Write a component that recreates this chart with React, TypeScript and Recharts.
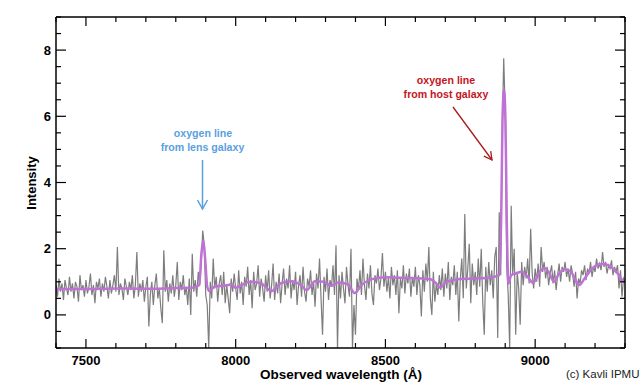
import { Line, LineChart, XAxis, YAxis } from 'recharts';

// observed spectrum, 5 Å sampling from 7400 Å
const FLUX_START = 7400;
const FLUX_STEP = 5;
const observedFlux = [
  0.9, 0.55, 1.1, 0.7, 0.95, 0.45, 1.05, 0.8, 0.6, 1.15,
  0.7, 0.95, 0.5, 1.0, 0.85, 0.4, 1.2, 0.75, 0.9, 0.55,
  1.05, 0.65, 0.85, 1.25, 0.6, 0.9, 0.35, 1.0, 0.8, 1.1,
  0.55, 0.95, 0.7, 1.15, 0.85, 0.5, 1.05, 0.65, 0.9, 1.2,
  0.7, 2.05, 0.6, 0.95, 0.8, 0.45, 1.1, 0.85, 0.6, 1.0,
  0.75, 1.2, 0.5, 0.9, 1.9, 0.55, 0.95, 0.7, 1.05, 0.4,
  0.85, 1.15, -0.35, 0.6, 1.0, 0.3, 0.9, 1.25, 0.5, 0.8,
  0.2, -0.25, 1.95, 0.7, 1.05, 0.4, 0.95, 0.65, 1.2, 0.55,
  0.9, 1.6, 0.45, 1.0, 0.75, 1.2, 0.6, 0.85, 0.3, 1.1,
  0.0, 1.85, 0.7, 1.05, 0.55, 1.3, 0.9, 1.6, 2.55, 2.1,
  0.6, 0.3, -1.0, 1.0, 0.5, 1.7, 0.8, 1.15, 0.4, 0.95,
  1.2, 0.6, 1.3, 0.35, 0.9, 0.5, 0.05, 1.1, 0.7, 1.25,
  0.8, 0.45, 1.35, 0.65, 1.0, 0.3, 1.15, 0.85, 1.45, 0.6,
  1.05, 0.2, 1.3, 0.75, 0.95, 1.5, 0.55, 1.1, 0.8, 0.4,
  1.2, 0.7, 1.35, 0.5, 0.9, 1.55, 0.45, 1.0, 0.65, 1.25,
  0.35, 0.95, 1.4, 0.6, 1.1, 0.8, 1.5, 0.5, 1.05, 0.75,
  1.3, 0.3, 0.9, 1.2, 0.55, 1.45, 0.7, 0.4, 1.1, 0.85,
  1.35, 0.6, 1.0, 0.25, 1.25, 0.8, 1.7, 0.5, -0.6, 1.15,
  0.7, 1.4, 0.45, 1.05, 0.85, 1.5, 0.6, 2.1, -1.0, 1.2,
  0.5, 1.3, 0.8, 0.35, 1.45, 0.9, 0.55, 2.0, -1.0, 0.3,
  -0.6, 1.1, 0.75, 1.35, 0.6, 1.7, 0.9, 0.45, 1.25, 0.8,
  1.5, 0.65, 0.3, 1.2, 0.95, 1.4, 0.75, 1.1, 1.87, 0.85,
  1.3, 0.7, 1.15, 0.5, 1.45, 0.9, 1.2, 0.6, 1.35, 0.05,
  1.1, 0.8, 1.5, 0.65, 1.25, 0.95, 1.4, 0.55, 1.15, 0.85,
  1.45, 0.6, 1.2, 0.9, -0.05, 1.35, 0.7, 1.55, 1.0, 2.05,
  0.5, 0.0, 1.3, 0.4, 0.95, 0.6, 1.2, 0.75, 1.4, 0.55,
  1.25, 0.8, 1.6, 0.45, 1.15, 0.9, 1.5, 0.6, 1.3, -0.2,
  1.1, 1.7, 0.5, 3.05, 0.8, 1.4, 2.15, 0.35, 1.55, 0.9,
  1.3, 0.6, 1.7, 0.85, 2.0, 0.4, -0.6, 1.45, 0.7, 1.6,
  0.9, 1.35, 0.5, 1.75, 2.05, -0.7, 3.1, 1.2, 5.5, 7.75,
  6.2, 1.5, 0.6, -1.0, 3.3, 1.2, 2.0, -0.6, 1.3, 0.8,
  -0.3, 1.6, 0.9, 1.45, 1.1, 1.7, 0.95, 2.6, 1.25, 0.8,
  1.4, 1.0, 1.55, 0.85, 2.05, 1.3, 1.6, 1.1, 1.45, 0.9,
  1.25, 1.5, 0.95, 1.35, 0.75, 1.2, 1.55, 1.0, 1.45, 1.3,
  1.6, 1.15, 1.4, 1.0, 1.5, 1.25, 0.85, 1.3, 0.5, 1.1,
  0.95, 1.35, 1.2, 1.5, 1.05, 1.4, 1.25, 1.6, 1.15, 1.45,
  1.3, 1.7, 1.4, 1.55, 1.35, 1.9, 1.45, 1.6, 1.25, 1.5,
  1.4, 1.65, 1.2, 1.45, 1.3, 1.5, 0.8, 1.35, 0.55, 1.1,
  1.0,
];

// smoothed model spectrum
const modelWave = [
  7400, 7500, 7600, 7700, 7800, 7860, 7878, 7886, 7892, 7898,
  7905, 7912, 7930, 7960, 7985, 8000, 8015, 8050, 8085, 8120,
  8150, 8185, 8215, 8237, 8265, 8295, 8318, 8345, 8375, 8397,
  8420, 8455, 8500, 8550, 8600, 8650, 8670, 8683, 8700, 8740,
  8800, 8850, 8880, 8887, 8891, 8896, 8901, 8905, 8911, 8920,
  8935, 8955, 8975, 8993, 9015, 9030, 9045, 9063, 9080, 9100,
  9120, 9135, 9147, 9165, 9190, 9220, 9245, 9265, 9280, 9290,
  9300,
];
const modelFlux = [
  0.78, 0.78, 0.8, 0.79, 0.81, 0.83, 0.9, 1.9, 2.25, 1.7,
  0.85, 0.72, 0.86, 0.88, 0.92, 0.82, 0.88, 1.0, 0.95, 0.72,
  0.95, 1.02, 0.92, 0.75, 1.02, 1.0, 0.88, 0.98, 0.92, 0.66,
  0.9, 1.08, 1.14, 1.12, 1.11, 1.08, 0.95, 0.82, 0.98, 1.08,
  1.1, 1.13, 1.2, 3.2, 5.9, 6.8, 5.8, 3.0, 0.95, 1.2,
  1.25, 1.3, 1.15, 0.97, 1.3, 1.42, 1.3, 1.0, 1.25, 1.38,
  1.3, 1.05, 0.9, 1.1, 1.4, 1.54, 1.5, 1.35, 1.2, 1.05,
  1.0,
];

const xTicks = [
  7400, 7500, 7600, 7700, 7800, 7900, 8000, 8100, 8200, 8300, 8400,
  8500, 8600, 8700, 8800, 8900, 9000, 9100, 9200, 9300,
];
const xLabels = [7500, 8000, 8500, 9000];
const yTicks = [
  -1, -0.5, 0, 0.5, 1, 1.5, 2, 2.5, 3, 3.5, 4, 4.5, 5, 5.5, 6, 6.5, 7,
  7.5, 8, 8.5, 9,
];
const yLabels = [0, 2, 4, 6, 8];

const FONT = '"Liberation Sans", Arial, Helvetica, sans-serif';

const observedData = observedFlux.map((v, i) => ({
  w: FLUX_START + i * FLUX_STEP,
  v,
}));
const modelData = modelWave.map((w, i) => ({ w, v: modelFlux[i] }));

function BottomTick({ x, y, payload }: any) {
  const major = xLabels.includes(payload.value);
  return (
    <g>
      <line x1={x} y1={y} x2={x} y2={y - (major ? 9 : 5)} stroke="#000" strokeWidth={1.2} />
      {major && (
        <text x={x} y={y + 17} textAnchor="middle" fontFamily={FONT} fontWeight="bold" fontSize={13} fill="#000">
          {payload.value}
        </text>
      )}
    </g>
  );
}

function TopTick({ x, y, payload }: any) {
  const major = xLabels.includes(payload.value);
  return <line x1={x} y1={y} x2={x} y2={y + (major ? 9 : 5)} stroke="#000" strokeWidth={1.2} />;
}

function LeftTick({ x, y, payload }: any) {
  const major = yLabels.includes(payload.value);
  return (
    <g>
      <line x1={x} y1={y} x2={x + (major ? 10 : 5)} y2={y} stroke="#000" strokeWidth={1.2} />
      {major && (
        <text x={x - 5} y={y + 4.5} textAnchor="end" fontFamily={FONT} fontWeight="bold" fontSize={13} fill="#000">
          {payload.value}
        </text>
      )}
    </g>
  );
}

function RightTick({ x, y, payload }: any) {
  const major = yLabels.includes(payload.value);
  return <line x1={x} y1={y} x2={x - (major ? 10 : 5)} y2={y} stroke="#000" strokeWidth={1.2} />;
}

export default function App() {
  return (
    <div style={{ position: 'absolute', left: 0, top: 0, width: 640, height: 384, background: '#fff' }}>
      <LineChart width={640} height={384} margin={{ top: 0, right: 0, bottom: 0, left: 0 }}>
        <XAxis
          xAxisId="bottom"
          dataKey="w"
          type="number"
          domain={[7400, 9300]}
          allowDataOverflow
          ticks={xTicks}
          interval={0}
          height={36}
          tickSize={0}
          tickMargin={0}
          tickLine={false}
          axisLine={{ stroke: '#000', strokeWidth: 1.5 }}
          tick={<BottomTick />}
        />
        <XAxis
          xAxisId="top"
          orientation="top"
          dataKey="w"
          type="number"
          domain={[7400, 9300]}
          allowDataOverflow
          ticks={xTicks}
          interval={0}
          height={17}
          tickSize={0}
          tickMargin={0}
          tickLine={false}
          axisLine={{ stroke: '#000', strokeWidth: 1.5 }}
          tick={<TopTick />}
        />
        <YAxis
          yAxisId="left"
          type="number"
          domain={[-1, 9]}
          allowDataOverflow
          ticks={yTicks}
          interval={0}
          width={56}
          tickSize={0}
          tickMargin={0}
          tickLine={false}
          axisLine={{ stroke: '#000', strokeWidth: 1.5 }}
          tick={<LeftTick />}
        />
        <YAxis
          yAxisId="right"
          orientation="right"
          type="number"
          domain={[-1, 9]}
          allowDataOverflow
          ticks={yTicks}
          interval={0}
          width={15}
          tickSize={0}
          tickMargin={0}
          tickLine={false}
          axisLine={{ stroke: '#000', strokeWidth: 1.5 }}
          tick={<RightTick />}
        />
        <Line
          xAxisId="bottom"
          yAxisId="left"
          data={observedData}
          dataKey="v"
          type="linear"
          stroke="#7d7d7d"
          strokeWidth={1.2}
          dot={false}
          isAnimationActive={false}
        />
        <Line
          xAxisId="bottom"
          yAxisId="left"
          data={modelData}
          dataKey="v"
          type="monotone"
          stroke="#bf72d6"
          strokeWidth={2.5}
          dot={false}
          isAnimationActive={false}
        />
      </LineChart>
      <svg
        width={640}
        height={384}
        style={{ position: 'absolute', left: 0, top: 0, pointerEvents: 'none' }}
        fontFamily={FONT}
      >
        <text x={31} y={183} transform="rotate(-90 31 183)" textAnchor="middle" dominantBaseline="central" fontWeight="bold" fontSize={13}>
          Intensity
        </text>
        <text x={341} y={379} textAnchor="middle" fontWeight="bold" fontSize={13.5}>
          Observed wavelength (Å)
        </text>
        <text x={566} y={378} fontSize={11.5} fill="#222">
          (c) Kavli IPMU
        </text>

        <g fill="#5a9fe0" fontWeight="bold" fontSize={10.6} textAnchor="middle">
          <text x={203} y={137}>oxygen line</text>
          <text x={202.5} y={151}>from lens galaxy</text>
        </g>
        <line x1={202.5} y1={160} x2={202.5} y2={209} stroke="#5a9fe0" strokeWidth={1.5} />
        <polyline points="197.5,200 202.5,209 207.5,200" fill="none" stroke="#5a9fe0" strokeWidth={1.5} />

        <g fill="#c4161e" fontWeight="bold" fontSize={10.6} textAnchor="middle">
          <text x={446} y={84}>oxygen line</text>
          <text x={446} y={98}>from host galaxy</text>
        </g>
        <line x1={453} y1={107} x2={492} y2={160} stroke="#a81c1c" strokeWidth={1.3} />
        <polyline points="490.7,151.1 492,160 483.9,156.1" fill="none" stroke="#a81c1c" strokeWidth={1.3} />
      </svg>
    </div>
  );
}
